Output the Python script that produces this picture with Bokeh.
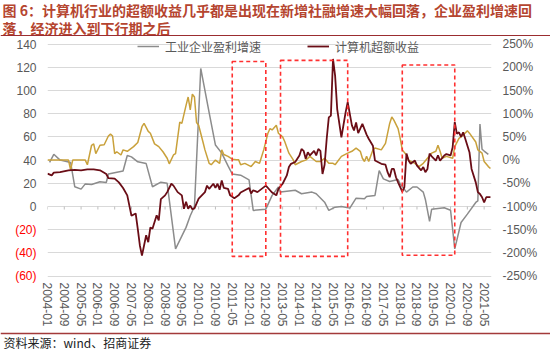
from bokeh.plotting import figure
from bokeh.layouts import column, row
from bokeh.models import (Range1d, LinearAxis, FixedTicker, Legend, LegendItem,
                          Label, BoxAnnotation, Grid)
from bokeh.core.properties import value
from bokeh.embed import file_html
from bokeh.resources import INLINE

# ---------------- data ----------------
x_tick_labels = ["2004-01", "2004-09", "2005-05", "2006-01", "2006-09", "2007-05",
                 "2008-01", "2008-09", "2009-05", "2010-01", "2010-09", "2011-05",
                 "2012-01", "2012-09", "2013-05", "2014-01", "2014-09", "2015-05",
                 "2016-01", "2016-09", "2017-05", "2018-01", "2018-09", "2019-05",
                 "2020-01", "2020-09", "2021-05"]
left_ticks = [-60, -40, -20, 0, 20, 40, 60, 80, 100, 120, 140]
right_ticks = [-250, -200, -150, -100, -50, 0, 50, 100, 150, 200, 250]

# 工业企业盈利增速 (left axis)
profit_dates = ["2004-02", "2004-04", "2004-07", "2004-12", "2005-02", "2005-05", "2005-07",
                "2005-10", "2006-02", "2006-05", "2006-06", "2007-01", "2007-03", "2007-05",
                "2007-08", "2007-12", "2008-03", "2008-07", "2008-10", "2009-02", "2009-07",
                "2009-09", "2009-11", "2010-02", "2010-06", "2010-09", "2010-12", "2011-03",
                "2011-05", "2011-09", "2012-01", "2012-03", "2012-09", "2012-12", "2013-03",
                "2013-04", "2013-11", "2014-02", "2014-07", "2014-09", "2015-01", "2015-03",
                "2015-06", "2015-09", "2016-01", "2016-04", "2016-08", "2016-09", "2017-01",
                "2017-03", "2017-05", "2017-08", "2017-12", "2018-01", "2018-04", "2018-07",
                "2018-09", "2018-12", "2019-01", "2019-03", "2019-04", "2019-07", "2019-10",
                "2020-01", "2020-03", "2020-06", "2020-09", "2021-01", "2021-02", "2021-03",
                "2021-04", "2021-05", "2021-07"]
profit_vals = [38, 45, 40, 38, 17, 15, 19.5, 19, 21.4, 20.7, 28, 30.6, 44, 42.8, 38.5, 37,
               17, 21, 20, -36.5, -18, -8, 0, 119, 81, 53, 46, 35, 28, 27, 23, -3.4, -2.3,
               9.6, 16.8, 12.4, 14, 11, 12.4, 11, 3.7, -3.4, -0.6, 0, -1.4, 7.2, 6.6, 8.6,
               9.5, 31, 23.8, 21.6, 23.3, 19.5, 12.4, 16.8, 16.8, 12.4, 6.1, -12.9, -2.3,
               -1.7, -1.1, -3.2, -36.5, -13.8, -6.6, 3.5, 4.9, 71, 49.4, 47.8, 45]

# gold series without legend entry (right axis, %)
gold_dates = ["2004-01", "2004-11", "2004-12", "2005-01", "2005-07", "2005-08", "2005-10",
              "2005-11", "2005-12", "2006-02", "2006-04", "2006-06", "2006-07", "2006-08",
              "2006-09", "2006-10", "2006-12", "2007-01", "2007-03", "2007-06", "2007-08",
              "2007-10", "2007-11", "2008-01", "2008-02", "2008-04", "2008-06", "2008-08",
              "2008-10", "2008-11", "2009-01", "2009-02", "2009-04", "2009-05", "2009-07",
              "2009-08", "2009-09", "2009-10", "2009-11", "2009-12", "2010-01", "2010-03",
              "2010-04", "2010-06", "2010-07", "2010-09", "2010-11", "2010-12", "2011-01",
              "2011-03", "2011-05", "2011-07", "2011-08", "2011-09", "2011-11", "2012-02",
              "2012-04", "2012-06", "2012-08", "2012-10", "2012-11", "2012-12", "2013-02",
              "2013-03", "2013-05", "2013-06", "2013-08", "2013-10", "2013-11", "2014-02",
              "2014-04", "2014-06", "2014-09", "2014-11", "2015-01", "2015-03", "2015-05",
              "2015-06", "2015-09", "2015-12", "2016-02", "2016-04", "2016-06", "2016-07",
              "2016-08", "2016-09", "2016-10", "2016-12", "2017-01", "2017-04", "2017-06",
              "2017-08", "2017-09", "2017-10", "2017-12", "2018-01", "2018-02", "2018-04",
              "2018-05", "2018-08", "2018-10", "2018-12", "2019-02", "2019-04", "2019-06",
              "2019-07", "2019-08", "2019-09", "2019-11", "2020-02", "2020-03", "2020-05",
              "2020-07", "2020-09", "2020-10", "2021-01", "2021-02", "2021-04", "2021-05",
              "2021-07", "2021-08"]
gold_vals = [0, 0, -21, 0, 0, -10, 32, 35, 14, 32, 33, 52, 56, 52, 14, 18, 11, 22, 19, 29,
             38, 72, 79, 62, 58, 35, 29, 18, 4, -8, 11, 14, 82, 79, 118, 136, 108, 142, 136,
             81, 75, 40, 22, -7, -10, 0, -7, 22, 12, 8, 2, 1, 1, -10, -7, -14, -3, -7, 22,
             58, 68, 65, 75, 58, 50, 40, 15, 1, -10, -3, 0, 8, -3, -3, 4, -7, -7, -10, 8,
             15, 19, 26, 19, 4, -3, 8, -3, 22, 26, 22, 36, 79, 93, 86, 68, 47, 22, 11, 0,
             -7, -14, -7, 4, 15, 19, 32, 19, 4, 8, 4, 29, 47, 54, 63, 58, 39, 22, 15, -3,
             -14, -18]

# 计算机超额收益 (right axis, %)
excess_dates = ["2004-01", "2004-03", "2004-04", "2004-07", "2004-11", "2005-02", "2005-05",
                "2005-08", "2005-11", "2006-02", "2006-05", "2006-06", "2006-09", "2006-11",
                "2007-01", "2007-03", "2007-04", "2007-05", "2007-07", "2007-08", "2007-09",
                "2007-10", "2007-12", "2008-01", "2008-02", "2008-03", "2008-05", "2008-06",
                "2008-07", "2008-09", "2008-10", "2008-12", "2009-01", "2009-03", "2009-05",
                "2009-06", "2009-07", "2009-08", "2009-09", "2009-10", "2009-11", "2010-01",
                "2010-04", "2010-05", "2010-06", "2010-08", "2010-09", "2010-10", "2010-11",
                "2010-12", "2011-01", "2011-03", "2011-04", "2011-06", "2011-08", "2011-09",
                "2011-11", "2012-01", "2012-02", "2012-03", "2012-05", "2012-07", "2012-09",
                "2012-11", "2012-12", "2013-02", "2013-03", "2013-05", "2013-07", "2013-08",
                "2013-09", "2013-11", "2014-01", "2014-02", "2014-03", "2014-04", "2014-05",
                "2014-06", "2014-08", "2014-09", "2014-10", "2014-11", "2014-12", "2015-01",
                "2015-02", "2015-03", "2015-04", "2015-05", "2015-06", "2015-07", "2015-09",
                "2015-11", "2015-12", "2016-02", "2016-03", "2016-04", "2016-05", "2016-07",
                "2016-09", "2016-10", "2016-12", "2017-01", "2017-04", "2017-06", "2017-07",
                "2017-08", "2017-09", "2017-10", "2017-11", "2017-12", "2018-02", "2018-03",
                "2018-04", "2018-05", "2018-06", "2018-08", "2018-09", "2018-11", "2018-12",
                "2019-01", "2019-02", "2019-03", "2019-04", "2019-06", "2019-07", "2019-08",
                "2019-10", "2019-11", "2020-01", "2020-02", "2020-03", "2020-04", "2020-05",
                "2020-06", "2020-07", "2020-08", "2020-10", "2020-11", "2021-01", "2021-02",
                "2021-03", "2021-04", "2021-05", "2021-06", "2021-08"]
excess_vals = [-29, -33, -27, -26, -22, -21, -22, -20, -20, -22, -30, -39, -40, -48, -60, -76,
               -98, -120, -115, -148, -184, -206, -162, -177, -145, -148, -119, -130, -84,
               -76, -69, -51, -55, -69, -76, -105, -90, -105, -98, -106, -104, -83, -69, -55,
               -62, -51, -60, -51, -64, -44, -60, -62, -76, -82, -76, -70, -65, -60, -72, -65,
               -69, -62, -55, -65, -70, -76, -62, -51, -33, -15, -8, -4, 10, 24, 20, 3, 17,
               10, 20, 10, 24, 20, -30, -10, 46, 92, 96, 218, 182, 110, 49, 103, 125, 75, 64,
               81, 58, 78, 55, 46, 31, -1, -8, -10, -26, -37, -19, -19, -37, -48, -68, -58,
               14, -1, -8, -1, -12, -22, -15, -26, -19, 14, 8, -1, 10, -1, 10, 13, 10, 28, 82,
               57, 60, 50, 60, 46, 17, -19, -48, -69, -73, -80, -91, -80, -80]

# highlighted periods (red dashed boxes), left-axis extent
box_starts = ["2011-05", "2013-04", "2018-02"]
box_ends = ["2012-09", "2015-12", "2020-03"]
box_top = [125, 126, 122]
box_bottom = [-43, -43, -42]

title_lines = ["图 6：计算机行业的超额收益几乎都是出现在新增社融增速大幅回落，企业盈利增速回",
               "落，经济进入到下行期之后"]
source_text = "资料来源：wind、招商证券"
legend_labels = ["工业企业盈利增速", "计算机超额收益"]


def month_index(s):
    y, m = s.split("-")[:2]
    return (int(y) - 2004) * 12 + int(m) - 1


def left_label(v):
    return str(v) if v >= 0 else f"({abs(v)})"


# ---------------- layout geometry (canvas pixels) ----------------
W = 550
TITLE_H = 36
SOURCE_H = 19
MAIN_H = 351 - TITLE_H - SOURCE_H          # 296 (canvas 36..332)
LEFT_W = 37                                # width of the left tick-label strip
P_LEFT_B = 10                              # main plot left border (frame at canvas 47)
RIGHT_B = 59
FRAME_TOP, FRAME_BOT = 36, 284             # main frame on canvas
GRID_TOP, GRID_BOT = 43.6, 275.6           # 140 and -60 gridlines on canvas
BOTTOM_B = TITLE_H + MAIN_H - FRAME_BOT    # 48
PX = 200 / (GRID_BOT - GRID_TOP)           # left units per pixel
RPX = 500 / (GRID_BOT - GRID_TOP)          # right units per pixel
y_start = -60 - (FRAME_BOT - GRID_BOT) * PX
y_end = 140 + (GRID_TOP - FRAME_TOP) * PX
r_start = -250 - (FRAME_BOT - GRID_BOT) * RPX
r_end = 250 + (GRID_TOP - FRAME_TOP) * RPX

axis_font = "Liberation Sans"
axis_color = "#595959"
title_color = "#B5452F"


def blank_fig(w, h):
    f = figure(width=w, height=h, output_backend="svg", toolbar_location=None,
               x_range=Range1d(0, w), y_range=Range1d(h, 0),
               x_axis_type=None, y_axis_type=None, min_border=0)
    f.outline_line_color = None
    f.grid.visible = False
    return f


# ---------------- title ----------------
ft = blank_fig(W, TITLE_H)
for t, yy in zip(title_lines, [9.5, 27]):
    ft.add_layout(Label(x=2, y=yy, text=t, text_font="Noto Sans CJK SC",
                        text_font_style="bold", text_font_size="14px",
                        text_color=title_color, text_baseline="middle"))
ft.add_layout(BoxAnnotation(left=0, right=W, top=34.6, bottom=36, fill_color="#9B2D30",
                            fill_alpha=1, line_color=None))

# ---------------- main plot ----------------
p = figure(width=W - LEFT_W, height=MAIN_H, output_backend="svg", toolbar_location=None,
           x_range=Range1d(0, 211.5), y_range=Range1d(y_start, y_end),
           y_axis_location=None,
           min_border_left=P_LEFT_B, min_border_right=RIGHT_B, min_border_top=0,
           min_border_bottom=BOTTOM_B)
p.outline_line_color = None
p.grid.visible = False
p.extra_y_ranges = {"pct": Range1d(r_start, r_end)}
p.add_layout(Grid(dimension=1, ticker=FixedTicker(ticks=left_ticks),
                  grid_line_color="#D9D9D9", grid_line_width=1))

xt = [month_index(t) for t in x_tick_labels]
xa = p.xaxis[0]
xa.ticker = FixedTicker(ticks=xt)
xa.major_label_overrides = {month_index(t): t for t in x_tick_labels}
xa.major_label_orientation = "vertical"
xa.major_label_standoff = -2

ra = LinearAxis(y_range_name="pct", ticker=FixedTicker(ticks=right_ticks))
ra.major_label_overrides = {v: f"{v}%" for v in right_ticks}
ra.major_label_standoff = 11
p.add_layout(ra, "right")

for ax in (xa, ra):
    ax.axis_line_color = None
    ax.major_tick_line_color = None
    ax.minor_tick_line_color = None
    ax.major_tick_out = 0
    ax.major_tick_in = 0
    ax.major_label_text_font = axis_font
    ax.major_label_text_font_size = "12px"
    ax.major_label_text_color = axis_color

# zero line tick marks
p.segment(x0=xt, y0=[0] * len(xt), x1=xt, y1=[-2.6] * len(xt),
          line_color="#BFBFBF", line_width=1)

r_gray = p.line([month_index(d) for d in profit_dates], profit_vals,
                line_color="#8C8C8C", line_width=1.5)
r_gold = p.line([month_index(d) for d in gold_dates], gold_vals, y_range_name="pct",
                line_color="#C9A13B", line_width=1.5)
r_red = p.line([month_index(d) for d in excess_dates], excess_vals, y_range_name="pct",
               line_color="#6A0D16", line_width=1.8)

p.quad(left=[month_index(d) for d in box_starts], right=[month_index(d) for d in box_ends],
       top=box_top, bottom=box_bottom, fill_color=None, line_color="#FF3030",
       line_dash="4 3", line_width=1.6)

LEG_H = 20
LEG_CY = 45.5                              # legend centre on canvas
legend = Legend(items=[LegendItem(label=legend_labels[0], renderers=[r_gray]),
                       LegendItem(label=legend_labels[1], renderers=[r_red])],
                orientation="horizontal",
                location=(137 - 47, int(FRAME_BOT - LEG_CY - LEG_H / 2)),
                glyph_width=22, glyph_height=LEG_H, label_height=LEG_H, label_standoff=6,
                spacing=46, padding=0, margin=0, border_line_color=None,
                background_fill_alpha=0,
                label_text_font="Noto Sans CJK SC", label_text_font_size="12px",
                label_text_color="#595959")
p.add_layout(legend)

# ---------------- left tick labels (red negatives), same y scale ----------------
fl = figure(width=LEFT_W, height=MAIN_H, output_backend="svg", toolbar_location=None,
            x_range=Range1d(0, LEFT_W), y_range=p.y_range,
            x_axis_type=None, y_axis_type=None,
            min_border_left=0, min_border_right=0, min_border_top=0,
            min_border_bottom=BOTTOM_B)
fl.outline_line_color = None
fl.grid.visible = False
fl.text(x=[36] * len(left_ticks), y=left_ticks, text=[left_label(v) for v in left_ticks],
        text_color=["#FF0000" if v < 0 else axis_color for v in left_ticks],
        text_align="right", text_baseline="middle", text_font=value(axis_font),
        text_font_size="12px")

# ---------------- source ----------------
fs = blank_fig(W, SOURCE_H)
fs.add_layout(BoxAnnotation(left=0, right=W, top=0, bottom=1.8, fill_color="#A33A3A",
                            fill_alpha=1, line_color=None))
fs.add_layout(Label(x=3, y=10, text=source_text, text_font="Noto Sans CJK SC",
                    text_font_size="12px", text_color="#222222", text_baseline="middle"))

layout = column(ft, row(fl, p, spacing=0), fs, spacing=0)
open("out.html", "w").write(file_html(layout, INLINE))
